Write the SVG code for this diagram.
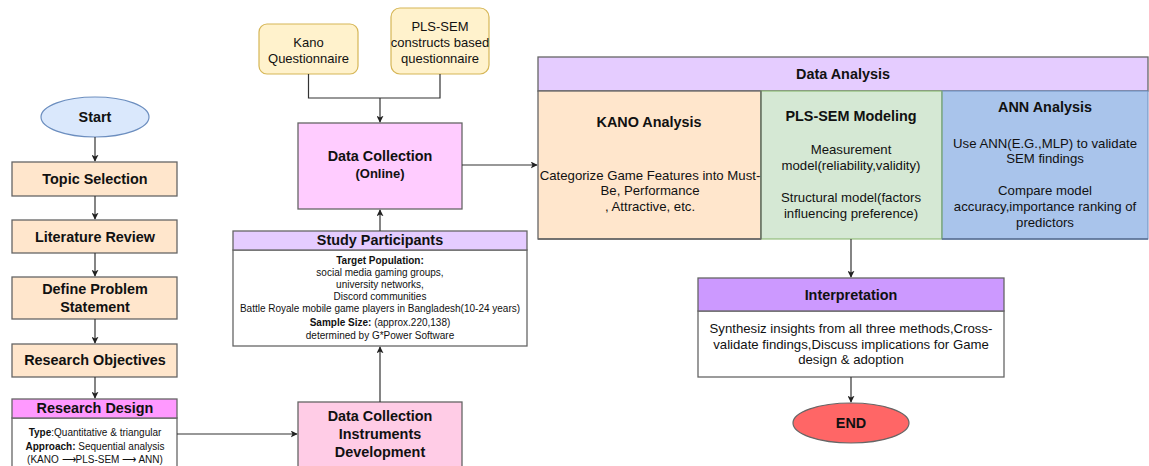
<svg xmlns="http://www.w3.org/2000/svg" width="1149" height="466" viewBox="0 0 1149 466">
<defs>
<marker id="ah" viewBox="0 0 10 10" refX="9" refY="5" markerWidth="7" markerHeight="7" markerUnits="userSpaceOnUse" orient="auto">
<path d="M0,0 L10,5 L0,10 L2.5,5 Z" fill="#222"/>
</marker>
<style>
text{font-family:"Liberation Sans",Arial,sans-serif;fill:#111;text-anchor:middle}
.b{font-weight:bold}
.t14{font-size:14.4px}
.t13{font-size:13px}
.t12{font-size:13.2px}
.t10{font-size:10px}
.box{stroke:#666;stroke-width:1.3}
.peach{fill:#ffe6cc}
.conn path{fill:none;stroke:#333;stroke-width:1.2}
</style>
</defs>
<rect width="1149" height="466" fill="#fff"/>

<g id="start"><ellipse cx="95" cy="117" rx="54" ry="20" fill="#dae8fc" stroke="#6c8ebf" stroke-width="1.2"/><text class="b t14" x="95" y="122">Start</text></g>
<g id="topic"><rect class="box peach" x="12" y="162" width="165" height="34"/><text class="b t14" x="95" y="184">Topic Selection</text></g>
<g id="literature"><rect class="box peach" x="12" y="220" width="165" height="33"/><text class="b t14" x="95" y="242">Literature Review</text></g>
<g id="problem"><rect class="box peach" x="12" y="277" width="165" height="42"/><text class="b t14" x="95" y="294">Define Problem</text><text class="b t14" x="95" y="312">Statement</text></g>
<g id="objectives"><rect class="box peach" x="12" y="344" width="165" height="33"/><text class="b t14" x="95" y="365">Research Objectives</text></g>
<g id="design">
<rect x="12" y="418" width="165" height="60" fill="#fff" class="box"/>
<rect x="12" y="399" width="165" height="19" fill="#ff99ff" class="box"/>
<text class="b t14" x="95" y="413">Research Design</text>
<text class="t10" x="95" y="436"><tspan class="b">Type</tspan>:Quantitative &amp; triangular</text>
<text class="t10" x="95" y="450"><tspan class="b">Approach:</tspan> Sequential analysis</text>
<text class="t10" x="95" y="463">(KANO ⟶PLS-SEM ⟶ ANN)</text>
</g>

<g id="kano-q"><rect x="259" y="24" width="99" height="50" rx="8" fill="#fff2cc" stroke="#d6b656" stroke-width="1.2"/><text class="t13" x="308.5" y="47">Kano</text><text class="t13" x="308.5" y="63">Questionnaire</text></g>
<g id="pls-q"><rect x="391" y="8" width="98" height="66" rx="9" fill="#fff2cc" stroke="#d6b656" stroke-width="1.2"/><text class="t13" x="440" y="31">PLS-SEM</text><text class="t13" x="440" y="47">constructs based</text><text class="t13" x="440" y="63">questionnaire</text></g>

<g id="data-collection"><rect class="box" x="298" y="123" width="164" height="86" fill="#ffccff"/><text class="b t14" x="380" y="161">Data Collection</text><text class="b t13" x="380" y="178">(Online)</text></g>

<g id="participants">
<rect class="box" x="233" y="250" width="294" height="96" fill="#fff"/>
<rect class="box" x="233" y="231" width="294" height="19" fill="#e5ccff"/>
<text class="b t14" x="380" y="245">Study Participants</text>
<text class="b t10" x="380" y="264">Target Population:</text>
<text class="t10" x="380" y="276">social media gaming groups,</text>
<text class="t10" x="380" y="288">university networks,</text>
<text class="t10" x="380" y="300">Discord communities</text>
<text class="t10" x="380" y="312">Battle Royale mobile game players in Bangladesh(10-24 years)</text>
<text class="t10" x="380" y="326"><tspan class="b">Sample Size:</tspan> (approx.220,138)</text>
<text class="t10" x="380" y="339">determined by G*Power Software</text>
</g>

<g id="instruments"><rect class="box" x="298" y="402" width="164" height="80" fill="#ffcce6"/><text class="b t14" x="380" y="421">Data Collection</text><text class="b t14" x="380" y="439">Instruments</text><text class="b t14" x="380" y="457">Development</text></g>

<g id="data-analysis">
<rect class="box" x="538" y="57" width="610" height="34" fill="#e5ccff"/>
<text class="b t14" x="843" y="79">Data Analysis</text>
<rect x="538" y="91" width="223" height="148" fill="#ffe6cc" stroke="#666" stroke-width="1.3"/>
<rect x="761" y="91" width="181" height="148" fill="#d5e8d4" stroke="#82b366" stroke-width="1"/>
<rect x="942" y="91" width="206" height="148" fill="#a9c4eb" stroke="#6c8ebf" stroke-width="1"/>
<line x1="761" y1="91" x2="761" y2="239" stroke="#666" stroke-width="1.3"/>
<line x1="942" y1="91" x2="942" y2="239" stroke="#82b366" stroke-width="1"/>
<line x1="942" y1="239" x2="1148" y2="239" stroke="#5a6f90" stroke-width="1.5"/>
<line x1="538" y1="239" x2="761" y2="239" stroke="#666" stroke-width="1.3"/>
<text class="b t14" x="649" y="127">KANO Analysis</text>
<text class="t12" x="650" y="180">Categorize Game Features into Must-</text>
<text class="t12" x="650" y="195">Be, Performance</text>
<text class="t12" x="650" y="211">, Attractive, etc.</text>
<text class="b t14" x="851" y="121">PLS-SEM Modeling</text>
<text class="t12" x="851" y="154">Measurement</text>
<text class="t12" x="851" y="170">model(reliability,validity)</text>
<text class="t12" x="851" y="202">Structural model(factors</text>
<text class="t12" x="851" y="218">influencing preference)</text>
<text class="b t14" x="1045" y="112">ANN Analysis</text>
<text class="t12" x="1045" y="148">Use ANN(E.G.,MLP) to validate</text>
<text class="t12" x="1045" y="163">SEM findings</text>
<text class="t12" x="1045" y="195">Compare model</text>
<text class="t12" x="1045" y="211">accuracy,importance ranking of</text>
<text class="t12" x="1045" y="227">predictors</text>
</g>

<g id="interpretation">
<rect class="box" x="698" y="311" width="306" height="66" fill="#fff"/>
<rect class="box" x="698" y="278" width="306" height="33" fill="#cc99ff"/>
<text class="b t14" x="851" y="300">Interpretation</text>
<text class="t12" x="851" y="333">Synthesiz insights from all three methods,Cross-</text>
<text class="t12" x="851" y="349">validate findings,Discuss implications for Game</text>
<text class="t12" x="851" y="364">design &amp; adoption</text>
</g>

<g id="end"><ellipse cx="851" cy="423" rx="58" ry="20" fill="#ff6666" stroke="#666" stroke-width="1.2"/><text class="b t14" x="851" y="428">END</text></g>

<g class="conn" id="connectors">
<path d="M95,137 V161" marker-end="url(#ah)"/>
<path d="M95,196 V219" marker-end="url(#ah)"/>
<path d="M95,253 V276" marker-end="url(#ah)"/>
<path d="M95,319 V343" marker-end="url(#ah)"/>
<path d="M95,377 V398" marker-end="url(#ah)"/>
<path d="M308.5,74 V98 H440 V74"/>
<path d="M380,98 V122" marker-end="url(#ah)"/>
<path d="M462,165 H537" marker-end="url(#ah)"/>
<path d="M380,231 V210" marker-end="url(#ah)"/>
<path d="M380,402 V347" marker-end="url(#ah)"/>
<path d="M177,434 H297" marker-end="url(#ah)"/>
<path d="M851,239 V277" marker-end="url(#ah)"/>
<path d="M851,377 V402" marker-end="url(#ah)"/>
</g>
</svg>
